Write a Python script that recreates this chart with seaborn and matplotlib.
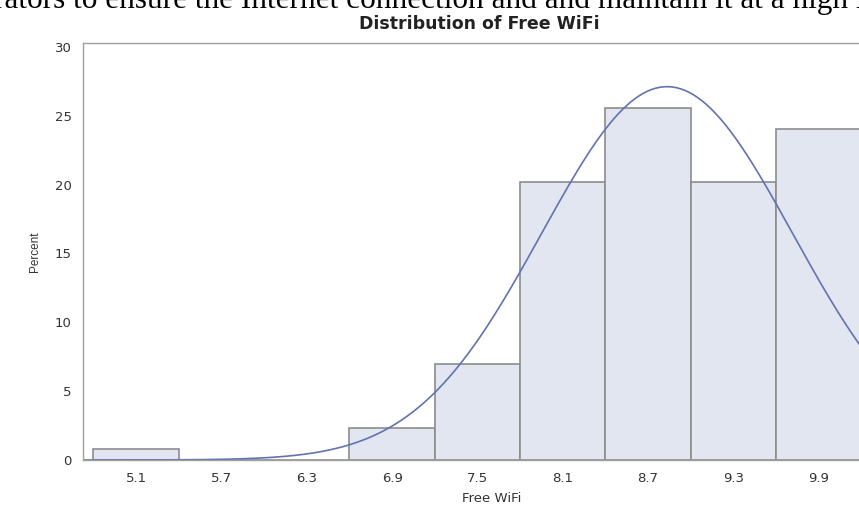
import numpy as np
import pandas as pd
import seaborn as sns
import matplotlib.pyplot as plt

# bin midpoints of Free WiFi and percent of observations per bin
bin_mids = [5.1, 5.7, 6.3, 6.9, 7.5, 8.1, 8.7, 9.3, 9.9]
percents = [0.78, 0.0, 0.0, 2.33, 6.98, 20.16, 25.58, 20.16, 24.03]
tick_vals = [5.1, 5.7, 6.3, 6.9, 7.5, 8.1, 8.7, 9.3, 9.9]
y_ticks = [0, 5, 10, 15, 20, 25, 30]

# fitted normal curve parameters
mu = 8.834
sigma = 0.883
bin_width = 0.6

df = pd.DataFrame({"Free WiFi": bin_mids, "Percent": percents})

sns.set_style("white")
plt.rcParams["font.family"] = ["DejaVu Sans"]

fig = plt.figure(figsize=(8.59, 5.09), dpi=100)
ax = fig.add_axes([0.097, 0.0963, 0.9508, 0.8198])

sns.histplot(data=df, x="Free WiFi", weights="Percent",
             binwidth=bin_width, binrange=(4.8, 10.2),
             color="#E1E6F0", edgecolor="#8C8C8C", linewidth=1.2,
             alpha=1, ax=ax)

xs = np.linspace(4.7, 10.5, 400)
ys = 100 * bin_width * np.exp(-0.5 * ((xs - mu) / sigma) ** 2) / (sigma * np.sqrt(2 * np.pi))
sns.lineplot(x=xs, y=ys, color="#6372B0", linewidth=1.2, ax=ax)

ax.set_xlim(4.729, 10.472)
ax.set_ylim(0, 30.3)
ax.set_xticks(tick_vals)
ax.set_xticklabels([f"{v:.1f}" for v in tick_vals])
ax.set_yticks(y_ticks)
ax.tick_params(axis="both", direction="out", length=4.5, width=0.8,
               color="#9A9A9A", labelsize=9.5, labelcolor="#333333", pad=4)
for s in ["left", "top", "bottom"]:
    ax.spines[s].set_color("#A0A0A0")
    ax.spines[s].set_linewidth(1)
ax.spines["right"].set_visible(False)
ax.set_xlabel("Free WiFi", fontsize=9.5, color="#333333", labelpad=5)
ax.set_ylabel("Percent", fontsize=8.5, color="#333333", labelpad=10,
              family=["Liberation Sans", "DejaVu Sans"])

fig.text(0.5576, 0.953, "Distribution of Free WiFi", ha="center", va="center",
         fontsize=12.5, fontweight="bold", color="#222222")
fig.text(-0.007, 0.984, "rators to ensure the Internet connection and and maintain it at a high level.",
         ha="left", va="baseline", fontsize=22.5, family=["Liberation Serif", "DejaVu Serif"],
         color="black")

fig.savefig("out.png", dpi=100)
